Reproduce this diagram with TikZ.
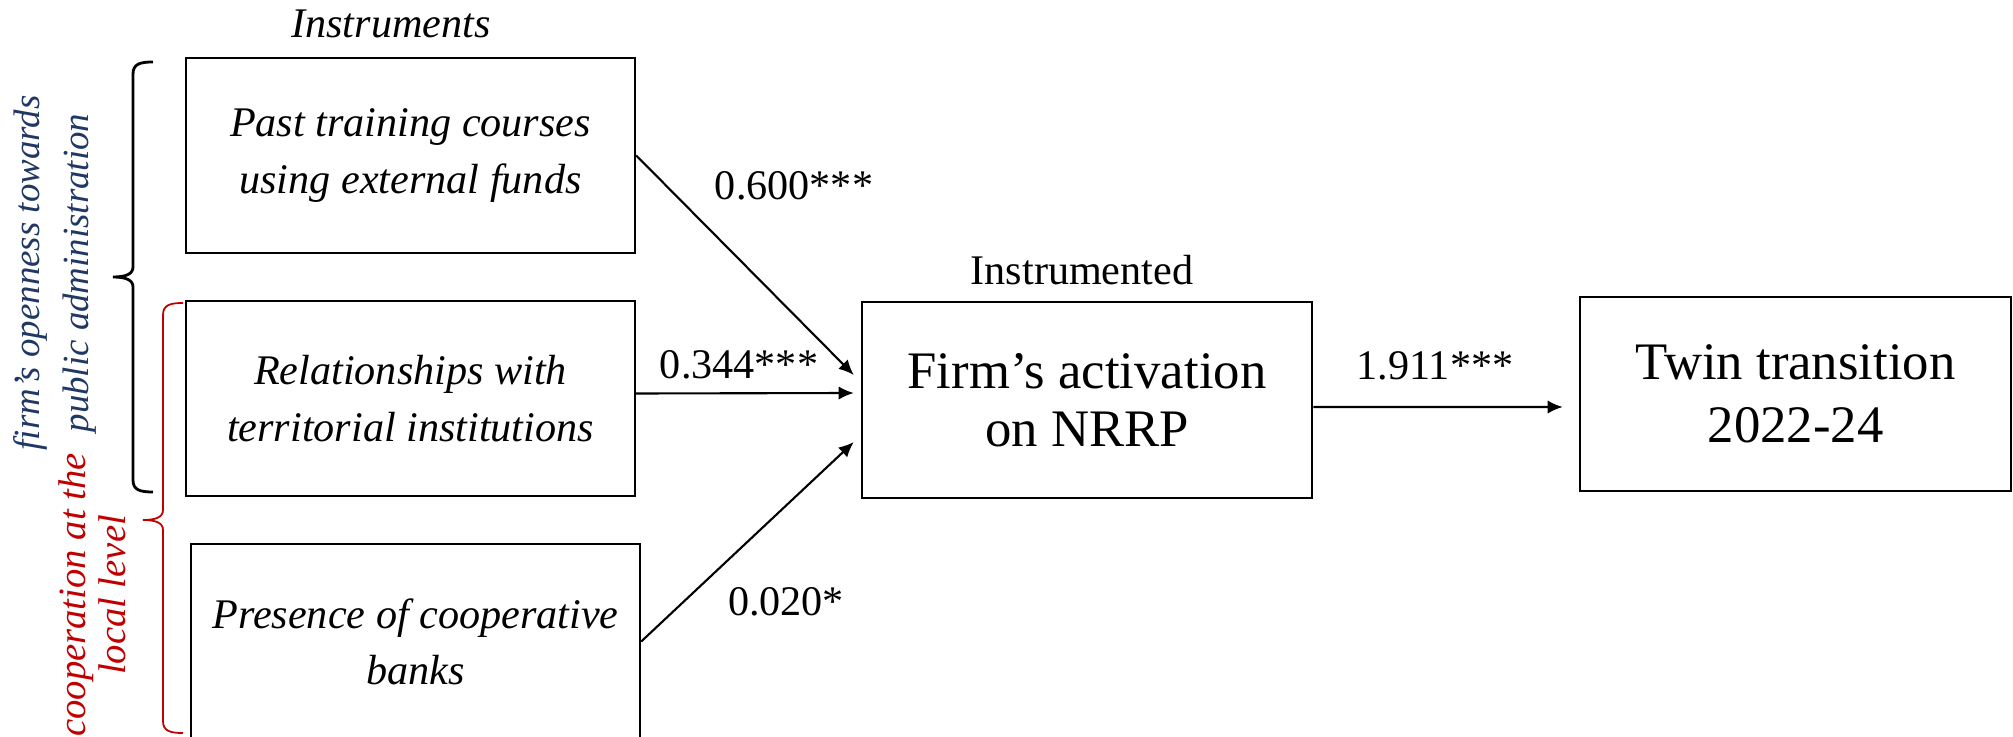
\documentclass[tikz,border=0pt]{standalone}
\usepackage{fontspec}
\setmainfont{Liberation Serif}
\usetikzlibrary{arrows.meta,positioning,calc}

\definecolor{paBlue}{RGB}{32,56,100}
\definecolor{locRed}{RGB}{192,0,0}

\begin{document}
\begin{tikzpicture}[
    box/.style = {draw, line width=0.7pt, minimum width=4.49cm, minimum height=1.95cm, inner sep=0pt, align=center},
    instr/.style = {box, font=\fontsize{12}{16}\selectfont\itshape},
    big/.style = {box, minimum width=4.50cm, minimum height=1.96cm},
    coef/.style = {font=\fontsize{12}{14}\selectfont},
    side/.style = {rotate=90, align=center},
    link/.style = {line width=0.6pt, -{Latex[length=4.3pt,width=3.8pt]}}
  ]
  \useasboundingbox (0,0) rectangle (20.13,-7.37);

  % instruments
  \node [instr] (past) at (4.105,-1.555) {Past training courses\\using external funds};
  \node [instr] (rel) at (4.105,-3.985) {Relationships with\\territorial institutions};
  \node [instr] (pres) at (4.155,-6.415) {Presence of cooperative\\banks};
  \node [coef, font=\fontsize{12}{14}\selectfont\itshape] (instrlab) at (3.91,-0.24) {Instruments};

  % instrumented and outcome
  \node [big, font=\fontsize{15}{16.5}\selectfont] (firm) at (10.87,-4.00) {Firm's activation\\on NRRP};
  \node [big, minimum width=4.31cm, minimum height=1.94cm, font=\fontsize{15}{18}\selectfont] (twin) at (17.955,-3.94) {Twin transition\\2022-24};
  \node [coef] (instdlab) at (10.82,-2.70) {Instrumented};

  % coefficients
  \node [coef] (c1) at (7.94,-1.86) {0.600***};
  \node [coef] (c2) at (7.39,-3.65) {0.344***};
  \node [coef] (c3) at (7.86,-6.02) {0.020*};
  \node [coef] (c4) at (14.35,-3.66) {1.911***};

  \draw [link] (past.east) -- ($(firm.west)+(-0.07,0.25)$);
  \draw [link] ($(rel.east)+(0,0.05)$) -- ($(firm.west)+(-0.07,0.07)$);
  \draw [link] (pres.east) -- ($(firm.west)+(-0.07,-0.42)$);
  \draw [link] ($(firm.east)+(0,-0.07)$) -- ($(twin.west)+(-0.16,-0.13)$);

  % braces
  \draw [line width=0.8pt] (1.53,-0.62) .. controls (1.40,-0.62) and (1.33,-0.64) .. (1.33,-0.74)
    -- (1.33,-2.67) .. controls (1.33,-2.74) and (1.26,-2.77) .. (1.13,-2.77)
    .. controls (1.26,-2.77) and (1.33,-2.80) .. (1.33,-2.87)
    -- (1.33,-4.80) .. controls (1.33,-4.90) and (1.40,-4.92) .. (1.53,-4.92);
  \draw [locRed, line width=0.5pt] (1.83,-3.03) .. controls (1.70,-3.03) and (1.63,-3.05) .. (1.63,-3.15)
    -- (1.63,-5.10) .. controls (1.63,-5.17) and (1.56,-5.20) .. (1.43,-5.20)
    .. controls (1.56,-5.20) and (1.63,-5.23) .. (1.63,-5.30)
    -- (1.63,-7.21) .. controls (1.63,-7.31) and (1.70,-7.33) .. (1.83,-7.33);

  \node [side, text=paBlue, font=\fontsize{10.5}{14}\selectfont\itshape] (openlab) at (0.55,-2.73)
    {firm's openness towards\\public administration};
  \node [side, text=locRed, font=\fontsize{11}{11.5}\selectfont\itshape] (coplab) at (0.92,-5.95)
    {cooperation at the\\local level};
\end{tikzpicture}
\end{document}
